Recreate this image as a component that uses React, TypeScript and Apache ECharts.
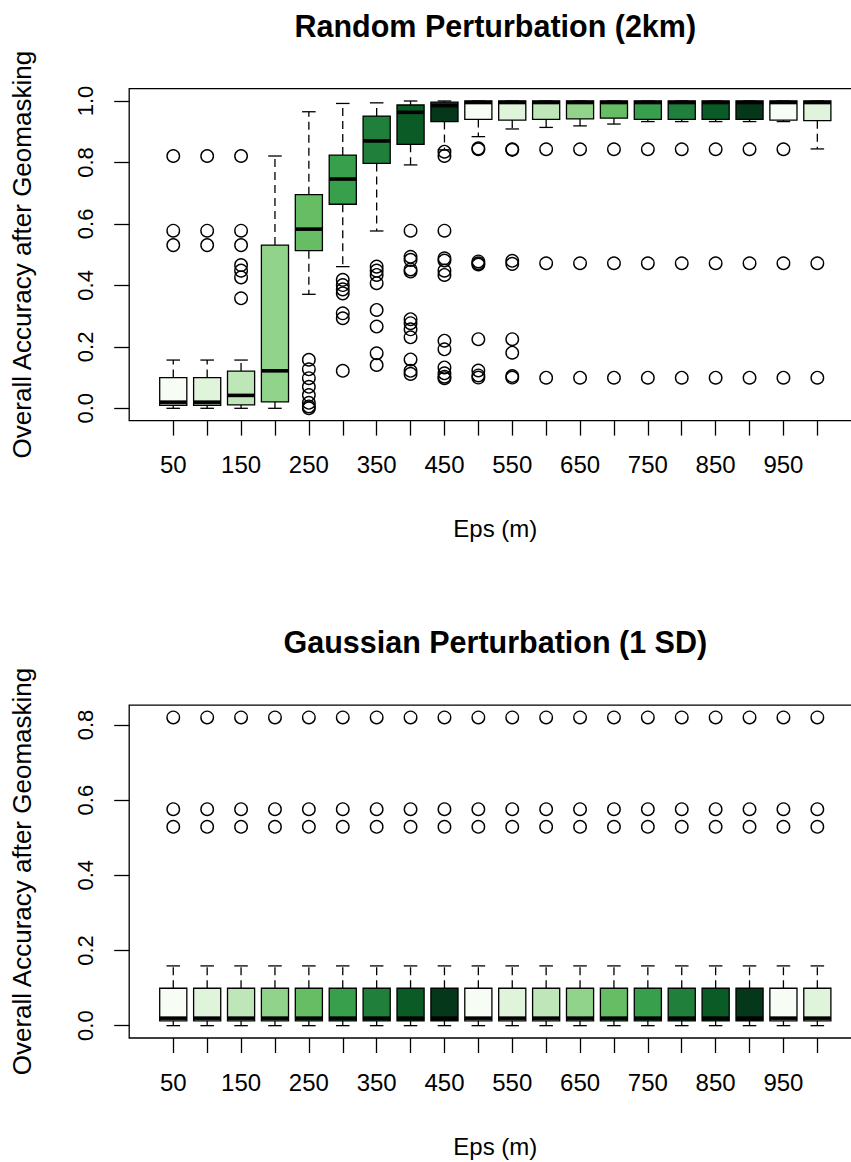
import React, { useEffect, useRef } from "react";
import * as echarts from "echarts";

const epsLabels = ["50", "100", "150", "200", "250", "300", "350", "400", "450", "500", "550", "600", "650", "700", "750", "800", "850", "900", "950", "1000"];
const greens = ["#F7FCF5", "#E0F3DB", "#BFE6B8", "#92D38B", "#66BD63", "#38A04D", "#1F7F3B", "#0A5B25", "#05381A"];

// Random Perturbation (2km)
const rpLow = [0, 0, 0, 0, 0.371, 0.461, 0.577, 0.792, 0.841, 0.884, 0.909, 0.914, 0.919, 0.925, 0.933, 0.933, 0.933, 0.933, 0.933, 0.844];
const rpQ1 = [0.01, 0.01, 0.011, 0.021, 0.513, 0.664, 0.797, 0.859, 0.933, 0.94, 0.938, 0.94, 0.942, 0.944, 0.94, 0.94, 0.94, 0.94, 0.938, 0.936];
const rpMedian = [0.02, 0.02, 0.042, 0.122, 0.583, 0.746, 0.87, 0.963, 0.985, 0.995, 0.995, 0.995, 0.995, 0.995, 0.995, 0.995, 0.995, 0.995, 0.995, 0.995];
const rpQ3 = [0.1, 0.1, 0.121, 0.531, 0.695, 0.824, 0.951, 0.987, 0.996, 1.0, 1.0, 1.0, 1.0, 1.0, 1.0, 1.0, 1.0, 1.0, 1.0, 1.0];
const rpHigh = [0.157, 0.157, 0.157, 0.821, 0.965, 0.992, 0.994, 1.0, 1.0, 1.0, 1.0, 1.0, 1.0, 1.0, 1.0, 1.0, 1.0, 1.0, 1.0, 1.0];
const rpOutliers = [
  [0.821, 0.578, 0.531],
  [0.821, 0.578, 0.531],
  [0.821, 0.578, 0.531, 0.466, 0.448, 0.426, 0.358],
  [],
  [0.158, 0.127, 0.098, 0.07, 0.043, 0.018, 0.006, 0.0],
  [0.418, 0.401, 0.387, 0.374, 0.309, 0.293, 0.122],
  [0.461, 0.448, 0.434, 0.407, 0.32, 0.266, 0.179, 0.141],
  [0.578, 0.493, 0.483, 0.452, 0.445, 0.29, 0.277, 0.257, 0.231, 0.159, 0.122, 0.112],
  [0.835, 0.821, 0.578, 0.488, 0.481, 0.448, 0.434, 0.22, 0.192, 0.133, 0.114, 0.103, 0.098],
  [0.846, 0.843, 0.478, 0.472, 0.468, 0.225, 0.123, 0.107, 0.1],
  [0.843, 0.841, 0.48, 0.47, 0.225, 0.181, 0.105, 0.1],
  [0.843, 0.472, 0.0996],
  [0.843, 0.472, 0.0996],
  [0.843, 0.472, 0.0996],
  [0.843, 0.472, 0.0996],
  [0.843, 0.472, 0.0996],
  [0.843, 0.472, 0.0996],
  [0.843, 0.472, 0.0996],
  [0.843, 0.472, 0.0996],
  [0.472, 0.0996],
];

// Gaussian Perturbation (1 SD)
const gpLow = [0, 0, 0, 0, 0, 0, 0, 0, 0, 0, 0, 0, 0, 0, 0, 0, 0, 0, 0, 0];
const gpQ1 = [0.0125, 0.0125, 0.0125, 0.0125, 0.0125, 0.0125, 0.0125, 0.0125, 0.0125, 0.0125, 0.0125, 0.0125, 0.0125, 0.0125, 0.0125, 0.0125, 0.0125, 0.0125, 0.0125, 0.0125];
const gpMedian = [0.02, 0.02, 0.02, 0.02, 0.02, 0.02, 0.02, 0.02, 0.02, 0.02, 0.02, 0.02, 0.02, 0.02, 0.02, 0.02, 0.02, 0.02, 0.02, 0.02];
const gpQ3 = [0.0995, 0.0995, 0.0995, 0.0995, 0.0995, 0.0995, 0.0995, 0.0995, 0.0995, 0.0995, 0.0995, 0.0995, 0.0995, 0.0995, 0.0995, 0.0995, 0.0995, 0.0995, 0.0995, 0.0995];
const gpHigh = [0.159, 0.159, 0.159, 0.159, 0.159, 0.159, 0.159, 0.159, 0.159, 0.159, 0.159, 0.159, 0.159, 0.159, 0.159, 0.159, 0.159, 0.159, 0.159, 0.159];
const gpOutliers = [
  [0.82, 0.576, 0.529], [0.82, 0.576, 0.529], [0.82, 0.576, 0.529], [0.82, 0.576, 0.529], [0.82, 0.576, 0.529],
  [0.82, 0.576, 0.529], [0.82, 0.576, 0.529], [0.82, 0.576, 0.529], [0.82, 0.576, 0.529], [0.82, 0.576, 0.529],
  [0.82, 0.576, 0.529], [0.82, 0.576, 0.529], [0.82, 0.576, 0.529], [0.82, 0.576, 0.529], [0.82, 0.576, 0.529],
  [0.82, 0.576, 0.529], [0.82, 0.576, 0.529], [0.82, 0.576, 0.529], [0.82, 0.576, 0.529], [0.82, 0.576, 0.529],
];

const topYTicks = [0, 0.2, 0.4, 0.6, 0.8, 1.0];
const bottomYTicks = [0, 0.2, 0.4, 0.6, 0.8];
const xTickPositions = epsLabels.map((_, i) => i + 1);
const xLabelPositions = xTickPositions.filter((p) => p % 2 === 1);

const FONT = "'Liberation Sans', Arial, Helvetica, sans-serif";

function boxSeries(axisIndex: number, low: number[], q1: number[], med: number[], q3: number[], high: number[]) {
  return {
    type: "custom",
    xAxisIndex: axisIndex,
    yAxisIndex: axisIndex,
    clip: false,
    silent: true,
    data: low.map((l, i) => [i + 1, l, q1[i], med[i], q3[i], high[i]]),
    encode: { x: 0, y: [1, 2, 3, 4, 5] },
    renderItem: (params: any, api: any) => {
      const x = api.value(0);
      const pLow = api.coord([x, api.value(1)]);
      const pQ1 = api.coord([x, api.value(2)]);
      const pMed = api.coord([x, api.value(3)]);
      const pQ3 = api.coord([x, api.value(4)]);
      const pHigh = api.coord([x, api.value(5)]);
      const half = api.size([0.8, 0])[0] / 2;
      const cap = api.size([0.4, 0])[0] / 2;
      const cx = pMed[0];
      const color = greens[params.dataIndex % greens.length];
      const dashStyle = { stroke: "#000", lineWidth: 1.3, lineDash: [8, 5] };
      const solid = { stroke: "#000", lineWidth: 1.3 };
      return {
        type: "group",
        children: [
          { type: "line", shape: { x1: cx, y1: pQ3[1], x2: cx, y2: pHigh[1] }, style: dashStyle },
          { type: "line", shape: { x1: cx, y1: pQ1[1], x2: cx, y2: pLow[1] }, style: dashStyle },
          { type: "line", shape: { x1: cx - cap, y1: pHigh[1], x2: cx + cap, y2: pHigh[1] }, style: solid },
          { type: "line", shape: { x1: cx - cap, y1: pLow[1], x2: cx + cap, y2: pLow[1] }, style: solid },
          {
            type: "rect",
            shape: { x: cx - half, y: pQ3[1], width: half * 2, height: pQ1[1] - pQ3[1] },
            style: { fill: color, stroke: "#000", lineWidth: 1.3 },
          },
          { type: "line", shape: { x1: cx - half, y1: pMed[1], x2: cx + half, y2: pMed[1] }, style: { stroke: "#000", lineWidth: 3.6 } },
        ],
      };
    },
  };
}

function outlierSeries(axisIndex: number, outliers: number[][]) {
  const data: number[][] = [];
  outliers.forEach((arr, i) => arr.forEach((v) => data.push([i + 1, v])));
  return {
    type: "scatter",
    xAxisIndex: axisIndex,
    yAxisIndex: axisIndex,
    silent: true,
    symbol: "circle",
    symbolSize: 12.5,
    clip: false,
    data,
    itemStyle: { color: "rgba(0,0,0,0)", borderColor: "#000", borderWidth: 1.4, opacity: 1 },
  };
}

function xAxis(gridIndex: number) {
  return {
    type: "value",
    gridIndex,
    min: -0.3,
    max: 21.3,
    position: "bottom",
    name: "Eps (m)",
    nameLocation: "middle",
    nameGap: 96,
    nameTextStyle: { fontFamily: FONT, fontSize: 24, color: "#000" },
    axisLine: { show: false, onZero: false },
    splitLine: { show: false },
    axisTick: { show: true, inside: false, length: 15, customValues: xTickPositions, lineStyle: { color: "#000", width: 1.3 } },
    axisLabel: {
      show: true,
      customValues: xLabelPositions,
      margin: 32,
      fontFamily: FONT,
      fontSize: 24,
      color: "#000",
      formatter: (v: number) => epsLabels[Math.round(v) - 1] ?? "",
    },
  };
}

function yAxis(gridIndex: number, min: number, max: number, ticks: number[]) {
  return {
    type: "value",
    gridIndex,
    min,
    max,
    position: "left",
    name: "Overall Accuracy after Geomasking",
    nameLocation: "middle",
    nameRotate: 90,
    nameGap: 94,
    nameTextStyle: { fontFamily: FONT, fontSize: 26, color: "#000" },
    axisLine: { show: false, onZero: false },
    splitLine: { show: false },
    axisTick: { show: true, inside: false, length: 15, customValues: ticks, lineStyle: { color: "#000", width: 1.3 } },
    axisLabel: {
      show: true,
      customValues: ticks,
      rotate: 90,
      margin: 33,
      fontFamily: FONT,
      fontSize: 22,
      color: "#000",
      formatter: (v: number) => v.toFixed(1),
    },
  };
}

export default function App() {
  const ref = useRef<HTMLDivElement>(null);
  useEffect(() => {
    if (!ref.current) return;
    const chart = echarts.init(ref.current, undefined, { renderer: "svg" });
    chart.setOption({
      animation: false,
      backgroundColor: "#fff",
      grid: [
        { left: 129.2, top: 88.7, width: 732.2, height: 331.9, show: true, borderColor: "#000", borderWidth: 1.3, backgroundColor: "transparent", containLabel: false },
        { left: 129.2, top: 705.1, width: 732.2, height: 332.9, show: true, borderColor: "#000", borderWidth: 1.3, backgroundColor: "transparent", containLabel: false },
      ],
      xAxis: [xAxis(0), xAxis(1)],
      yAxis: [yAxis(0, -0.04, 1.04, topYTicks), yAxis(1, -0.0328, 0.8528, bottomYTicks)],
      graphic: [
        {
          type: "text",
          x: 495.3,
          y: 25.5,
          style: { text: "Random Perturbation (2km)", fontFamily: FONT, fontWeight: "bold", fontSize: 30.5, fill: "#000", textAlign: "center", textVerticalAlign: "middle" },
        },
        {
          type: "text",
          x: 495.3,
          y: 642.2,
          style: { text: "Gaussian Perturbation (1 SD)", fontFamily: FONT, fontWeight: "bold", fontSize: 30.5, fill: "#000", textAlign: "center", textVerticalAlign: "middle" },
        },
      ],
      series: [
        boxSeries(0, rpLow, rpQ1, rpMedian, rpQ3, rpHigh),
        outlierSeries(0, rpOutliers),
        boxSeries(1, gpLow, gpQ1, gpMedian, gpQ3, gpHigh),
        outlierSeries(1, gpOutliers),
      ],
    });
    return () => chart.dispose();
  }, []);
  return (
    <div style={{ position: "absolute", left: 0, top: 0, width: 851, height: 1162, overflow: "hidden", background: "#fff" }}>
      <div ref={ref} style={{ width: 875, height: 1162 }} />
    </div>
  );
}
